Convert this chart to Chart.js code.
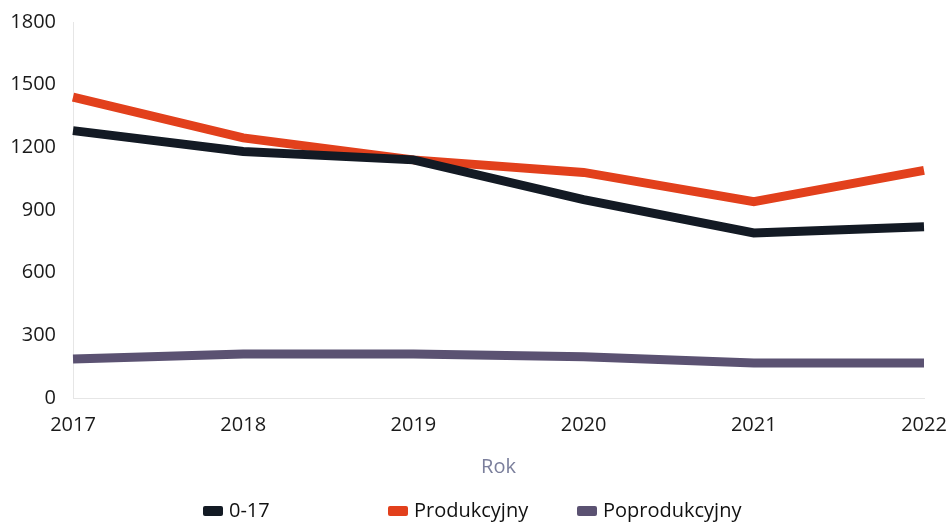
<!DOCTYPE html>
<html>
<head>
<meta charset="utf-8">
<script src="https://cdn.jsdelivr.net/npm/chart.js@4"></script>
<style>
    html, body { margin: 0; padding: 0; background: #ffffff; }
    #wrap { width: 949px; height: 525px; }
</style>
</head>
<body>
<div id="wrap"><canvas id="lineChart" width="949" height="525"></canvas></div>
<script>
const years = ['2017', '2018', '2019', '2020', '2021', '2022'];
const yTicks = [0, 300, 600, 900, 1200, 1500, 1800];
const ageYoung = [1280, 1180, 1140, 950, 790, 820];        // 0-17
const ageWorking = [1440, 1245, 1140, 1080, 940, 1090];    // Produkcyjny
const ageOld = [187, 211, 211, 197, 168, 168];             // Poprodukcyjny
const seriesNames = ['0-17', 'Produkcyjny', 'Poprodukcyjny'];
const seriesColors = ['#131a24', '#e2401c', '#5b5272'];

const FONT = 'Open Sans';

// 범례: 고정 열 간격으로 직접 그림
const fixedLegend = {
    id: 'fixedLegend',
    afterDraw(chart) {
        const c = chart.ctx;
        const cols = [203, 388, 577];
        const y = 511;
        c.save();
        c.font = '20px "' + FONT + '"';
        c.textBaseline = 'middle';
        chart.data.datasets.forEach(function (ds, i) {
            c.fillStyle = ds.borderColor;
            c.beginPath();
            c.roundRect(cols[i], y - 5, 20, 10, 2);
            c.fill();
            c.fillStyle = '#111111';
            c.fillText(ds.label, cols[i] + 26, y);
        });
        c.restore();
    }
};

new Chart(document.getElementById('lineChart'), {
    type: 'line',
    plugins: [fixedLegend],
    data: {
        labels: years,
        datasets: [ageYoung, ageWorking, ageOld].map(function (d, i) {
            return {
                label: seriesNames[i],
                data: d,
                borderColor: seriesColors[i],
                backgroundColor: seriesColors[i],
                borderWidth: 9,
                pointRadius: 0,
                tension: 0,
                borderCapStyle: 'butt',
                borderJoinStyle: 'miter'
            };
        })
    },
    options: {
        responsive: false,
        animation: false,
        layout: {
            padding: { left: 10, right: 25, top: 22, bottom: 46 }
        },
        plugins: {
            legend: { display: false },
            tooltip: { enabled: false }
        },
        scales: {
            x: {
                offset: false,
                afterFit: function (axis) {
                    axis.paddingLeft = 0;
                    axis.paddingRight = 0;  // 마지막 라벨 여백 제거
                },
                grid: { display: false, drawTicks: false },
                border: { display: true, color: '#e6e6e6', dash: [2, 3] },
                ticks: {
                    color: '#1a1a1a',
                    padding: 15,
                    maxRotation: 0,
                    font: { family: FONT, size: 20 }
                },
                title: {
                    display: true,
                    text: 'Rok',
                    color: '#7b7f9c',
                    padding: { top: 3, bottom: 0 },
                    font: { family: FONT, size: 20 }
                }
            },
            y: {
                min: 0,
                max: 1800,
                afterBuildTicks: function (axis) {
                    axis.ticks = yTicks.map(function (v) { return { value: v }; });
                },
                afterFit: function (axis) {
                    axis.width = 63;
                    axis.paddingTop = 0;
                    axis.paddingBottom = 0;
                },
                grid: { display: false, drawTicks: false },
                border: { display: true, color: '#e6e6e6', dash: [2, 3] },
                ticks: {
                    color: '#1a1a1a',
                    padding: 17,
                    font: { family: FONT, size: 20 },
                    callback: function (v) { return String(v); }
                }
            }
        }
    }
});
</script>
</body>
</html>
